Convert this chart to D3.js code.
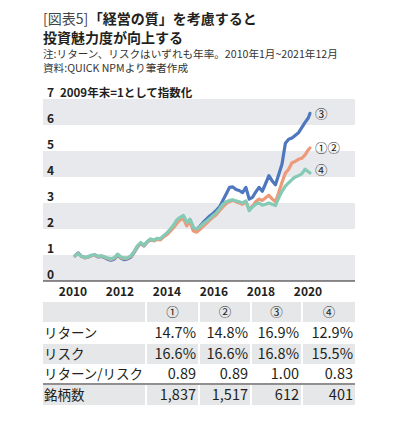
<!DOCTYPE html>
<html>
<head>
<meta charset="utf-8">
<script src="https://cdn.jsdelivr.net/npm/d3@7"></script>
<style>
  html, body { margin: 0; padding: 0; background: #fff; }
  svg { display: block; font-family: "Noto Sans CJK JP", "Noto Sans", sans-serif; }
</style>
</head>
<body>
<div id="chart"></div>
<script>
// ---------- data ----------
const dates = [
  "2010-01","2010-03","2010-05","2010-07","2010-09","2010-11",
  "2011-01","2011-03","2011-05","2011-07","2011-09","2011-11",
  "2012-01","2012-03","2012-05","2012-07","2012-09","2012-11",
  "2013-01","2013-03","2013-05","2013-07","2013-09","2013-11",
  "2014-01","2014-03","2014-05","2014-07","2014-09","2014-11",
  "2015-01","2015-03","2015-05","2015-07","2015-09","2015-11",
  "2016-01","2016-03","2016-05","2016-07","2016-09","2016-11",
  "2017-01","2017-03","2017-05","2017-07","2017-09","2017-11",
  "2018-01","2018-03","2018-05","2018-07","2018-09","2018-11",
  "2019-01","2019-03","2019-05","2019-07","2019-09","2019-11",
  "2020-01","2020-03","2020-05","2020-07","2020-09","2020-11",
  "2021-01","2021-03","2021-05","2021-07","2021-09","2021-11",
  "2021-12"
];
const series3 = [ // ③
  0.97,1.08,0.95,0.90,0.92,0.98,
  1.00,0.93,0.95,0.90,0.83,0.80,
  0.85,1.00,0.88,0.82,0.85,0.92,
  1.10,1.30,1.45,1.35,1.50,1.60,
  1.55,1.62,1.60,1.72,1.82,1.95,
  2.08,2.28,2.42,2.50,2.20,2.35,
  2.05,1.98,2.10,2.25,2.38,2.50,
  2.60,2.72,2.85,3.10,3.35,3.60,
  3.62,3.52,3.48,3.40,3.60,3.15,
  3.22,3.42,3.60,3.45,3.75,4.05,
  3.85,3.70,4.10,4.50,5.30,5.45,
  5.50,5.60,5.70,5.90,6.10,6.28,
  6.45
];
const series12 = [ // ①②
  0.97,1.06,0.94,0.89,0.92,0.98,
  1.00,0.94,0.96,0.92,0.86,0.83,
  0.88,1.02,0.90,0.86,0.88,0.95,
  1.12,1.32,1.45,1.36,1.50,1.60,
  1.55,1.60,1.58,1.70,1.78,1.92,
  2.05,2.22,2.35,2.40,2.12,2.28,
  1.92,1.88,1.98,2.10,2.22,2.35,
  2.45,2.55,2.70,2.85,2.98,3.05,
  3.10,3.05,3.00,2.95,3.05,2.75,
  2.88,3.05,3.15,3.10,3.20,3.30,
  3.15,3.05,3.40,3.80,4.15,4.30,
  4.55,4.60,4.68,4.72,4.85,5.05,
  5.12
];
const series4 = [ // ④
  0.97,1.05,0.95,0.90,0.93,0.99,
  1.01,0.95,0.97,0.93,0.88,0.85,
  0.90,1.03,0.92,0.88,0.90,0.97,
  1.14,1.35,1.48,1.38,1.52,1.62,
  1.57,1.64,1.62,1.75,1.85,2.00,
  2.15,2.35,2.45,2.52,2.25,2.38,
  2.05,2.00,2.08,2.20,2.30,2.40,
  2.52,2.62,2.78,2.95,3.05,3.10,
  3.12,3.08,3.05,3.00,3.08,2.70,
  2.85,2.95,3.00,2.92,2.95,3.00,
  2.95,2.90,3.20,3.45,3.65,3.78,
  3.90,4.00,4.05,4.12,4.30,4.20,
  4.15
];
const seriesNames = ["③", "①②", "④"];
const yTicks = [0,1,2,3,4,5,6,7];
const xTickYears = [2010,2012,2014,2016,2018,2020];

const tableHeads = ["①","②","③","④"];
const tableRowLabels = ["リターン","リスク","リターン/リスク","銘柄数"];
const tableReturn = ["14.7%","14.8%","16.9%","12.9%"];
const tableRisk = ["16.6%","16.6%","16.8%","15.5%"];
const tableRatio = ["0.89","0.89","1.00","0.83"];
const tableCount = ["1,837","1,517","612","401"];

// ---------- drawing ----------
const W = 400, H = 428;
const svg = d3.select("#chart").append("svg").attr("width", W).attr("height", H);
const ink = "#231f20";

// title
const tPre = svg.append("text").attr("x", 43).attr("y", 23.5).attr("font-size", 14)
  .attr("font-weight", 400).attr("fill", "#444").text("[図表5]");
const preW = tPre.node().getComputedTextLength();
svg.append("text").attr("x", 43 + preW + 0.5).attr("y", 23.5).attr("font-size", 14)
  .attr("font-weight", 700).attr("fill", ink).text("「経営の質」を考慮すると");
svg.append("text").attr("x", 43).attr("y", 42.5).attr("font-size", 14).attr("font-weight", 700)
  .attr("fill", ink).text("投資魅力度が向上する");
svg.append("text").attr("x", 43).attr("y", 57.5).attr("font-size", 10.6).attr("fill", "#333")
  .text("注:リターン、リスクはいずれも年率。2010年1月~2021年12月");
svg.append("text").attr("x", 43).attr("y", 71.5).attr("font-size", 10.6).attr("fill", "#333")
  .text("資料:QUICK NPMより筆者作成");

// scales
const parse = d3.timeParse("%Y-%m");
const x = d3.scaleTime().domain([parse(dates[0]), parse(dates[dates.length - 1])]).range([75, 310]);
const xLab = d3.scaleLinear().domain([2010, 2020]).range([73, 308]);
const y = d3.scaleLinear().domain([0, 7]).range([281, 99]);
const plotL = 43, plotR = 355;

// bands
const bandStarts = yTicks.filter(v => v % 2 === 0 && v < 7);
svg.append("g").selectAll("rect").data(bandStarts).join("rect")
  .attr("x", plotL).attr("width", plotR - plotL)
  .attr("y", d => y(d + 1)).attr("height", d => y(d) - y(d + 1))
  .attr("fill", "#e8e9ec");

// y labels
svg.append("g").selectAll("text").data(yTicks).join("text")
  .attr("x", 47).attr("y", d => y(d) - 2.5)
  .attr("font-size", 12).attr("font-weight", 700).attr("fill", ink)
  .text(d => d);
svg.append("text").attr("x", 60).attr("y", y(7) - 2.5).attr("font-size", 11.5)
  .attr("font-weight", 700).attr("fill", ink).text("2009年末=1として指数化");

// axis line
svg.append("line").attr("x1", plotL).attr("x2", plotR).attr("y1", y(0)).attr("y2", y(0))
  .attr("stroke", ink).attr("stroke-width", 1.2);

// x labels
svg.append("g").selectAll("text").data(xTickYears).join("text")
  .attr("x", d => xLab(d)).attr("y", 296).attr("text-anchor", "middle")
  .attr("font-size", 12).attr("font-weight", 600).attr("fill", ink)
  .text(d => d);

// lines
const line = d3.line().x((d, i) => x(parse(dates[i]))).y(d => y(d)).curve(d3.curveLinear);
const lineData = [
  {vals: series3, color: "#4e77bf"},
  {vals: series12, color: "#ee9a7a"},
  {vals: series4, color: "#84cab5"}
];
svg.append("g").selectAll("path").data(lineData).join("path")
  .attr("d", d => line(d.vals)).attr("fill", "none")
  .attr("stroke", d => d.color).attr("stroke-width", 3.2)
  .attr("stroke-linejoin", "round").attr("stroke-linecap", "round");

// end labels
const endLabelY = [y(series3[series3.length - 1]) + 1, y(5.1), y(4.25)];
svg.append("g").selectAll("text").data(seriesNames).join("text")
  .attr("x", 315).attr("y", (d, i) => endLabelY[i] + 4.5)
  .attr("font-size", 12.5).attr("fill", ink).text(d => d);

// ---------- table ----------
const colX = [[43,145],[147,198],[200,250],[252,301],[303,355]];
const rowsY = [[302,322],[323,343],[344,364],[365,383],[385,405]];
const greyRows = [0, 2, 4];
const tg = svg.append("g");
greyRows.forEach(r => {
  tg.selectAll(null).data(colX).join("rect")
    .attr("x", d => d[0]).attr("width", d => d[1] - d[0])
    .attr("y", rowsY[r][0]).attr("height", rowsY[r][1] - rowsY[r][0])
    .attr("fill", "#e6e7e9");
});
// header
tg.selectAll(null).data(tableHeads).join("text")
  .attr("x", (d, i) => (colX[i + 1][0] + colX[i + 1][1]) / 2)
  .attr("y", (rowsY[0][0] + rowsY[0][1]) / 2 + 4.5)
  .attr("text-anchor", "middle").attr("font-size", 12.5).attr("fill", ink).text(d => d);
// row labels
tg.selectAll(null).data(tableRowLabels).join("text")
  .attr("x", 44).attr("y", (d, i) => (rowsY[i + 1][0] + rowsY[i + 1][1]) / 2 + 5)
  .attr("font-size", 13.5).attr("fill", ink).text(d => d);
// values
[tableReturn, tableRisk, tableRatio, tableCount].forEach((row, r) => {
  tg.selectAll(null).data(row).join("text")
    .attr("x", (d, i) => colX[i + 1][1] - 2)
    .attr("y", (rowsY[r + 1][0] + rowsY[r + 1][1]) / 2 + 5.2)
    .attr("text-anchor", "end").attr("font-size", 14.5).attr("fill", ink).text(d => d);
});
tg.append("line").attr("x1", 43).attr("x2", 355).attr("y1", 384).attr("y2", 384)
  .attr("stroke", ink).attr("stroke-width", 1.2);
</script>
</body>
</html>
